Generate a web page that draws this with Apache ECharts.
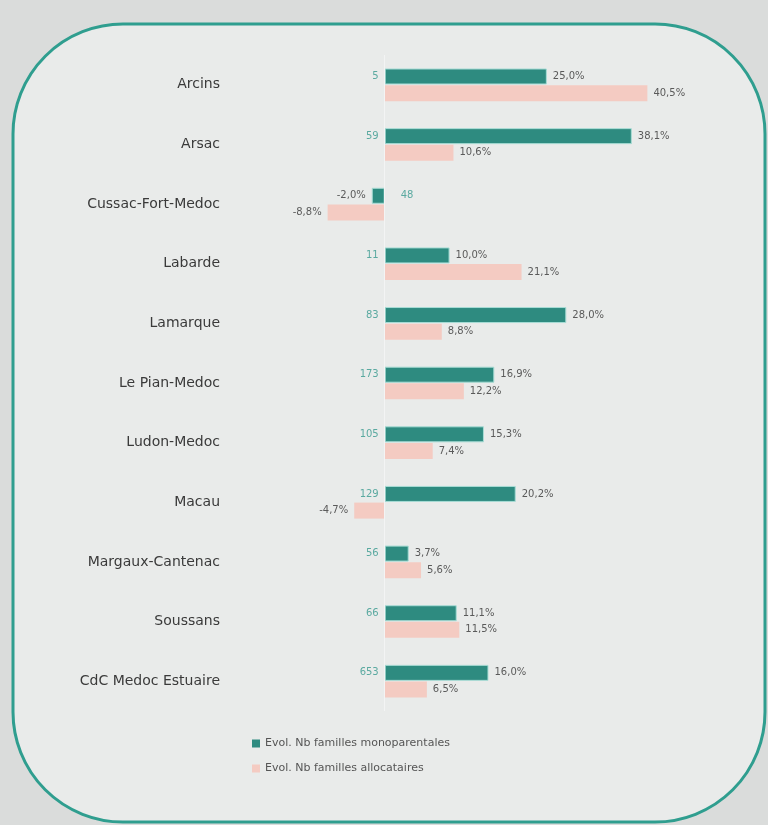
<!DOCTYPE html>
<html>
<head>
<meta charset="utf-8">
<script src="https://cdn.jsdelivr.net/npm/echarts@6/dist/echarts.min.js"></script>
<style>
  html, body { margin: 0; padding: 0; background: #dadcdb; }
  #chart { width: 768px; height: 825px; }
</style>
</head>
<body>
<div id="chart"></div>
<script>
// Communes of the CdC Médoc Estuaire
const categories = [
  'Arcins', 'Arsac', 'Cussac-Fort-Medoc', 'Labarde', 'Lamarque',
  'Le Pian-Medoc', 'Ludon-Medoc', 'Macau', 'Margaux-Cantenac',
  'Soussans', 'CdC Medoc Estuaire'
];
// Change in the number of single-parent families (%)
const monoparentales = [25.0, 38.1, -2.0, 10.0, 28.0, 16.9, 15.3, 20.2, 3.7, 11.1, 16.0];
// Change in the number of benefit-receiving families (%)
const allocataires = [40.5, 10.6, -8.8, 21.1, 8.8, 12.2, 7.4, -4.7, 5.6, 11.5, 6.5];
// Number of single-parent families
const nbMonoparentales = [5, 59, 48, 11, 83, 173, 105, 129, 56, 66, 653];

const seriesNames = ['Evol. Nb familles monoparentales', 'Evol. Nb familles allocataires'];

const fmtPct = v => v.toFixed(1).replace('.', ',') + '%';

const pctItems = values => values.map(v => ({
  value: v,
  label: { position: v < 0 ? 'left' : 'right' }
}));

const chart = echarts.init(document.getElementById('chart'));

const labelFont = { fontFamily: 'DejaVu Sans', fontSize: 10, color: '#5a5a5a' };

chart.setOption({
  backgroundColor: '#dadcdb',
  animation: false,
  graphic: [
    {
      type: 'rect',
      z: -10,
      shape: { x: 13, y: 24, width: 752, height: 798, r: 110 },
      style: { fill: '#e9ebea', stroke: '#2f9e8f', lineWidth: 3 }
    }
  ],
  grid: { left: 255, top: 55, width: 454, height: 656 },
  xAxis: {
    type: 'value', min: -20, max: 50, show: false,
    splitLine: { show: false }
  },
  yAxis: [
    {
      type: 'category', data: categories, inverse: true,
      axisLine: { show: false }, axisTick: { show: false },
      axisLabel: { margin: 35, fontFamily: 'DejaVu Sans', fontSize: 14, color: '#3a3a3a' }
    },
    {
      type: 'category', data: categories, inverse: true, show: false
    }
  ],
  legend: {
    data: seriesNames,
    orient: 'vertical', left: 247, top: 733, itemGap: 14,
    icon: 'rect', itemWidth: 8, itemHeight: 8,
    itemStyle: { borderWidth: 0 },
    textStyle: { fontFamily: 'DejaVu Sans', fontSize: 11, color: '#555' }
  },
  series: [
    {
      name: seriesNames[0], type: 'bar', yAxisIndex: 0,
      barWidth: 16, barGap: '4%',
      data: pctItems(monoparentales),
      itemStyle: { color: '#2e8b80', borderColor: '#a8dcd5', borderWidth: 1 },
      label: Object.assign({ show: true, distance: 6, formatter: p => fmtPct(p.value) }, labelFont),
      markLine: {
        silent: true, symbol: 'none', label: { show: false },
        lineStyle: { color: '#f3f4f4', width: 1, type: 'solid' },
        data: [{ xAxis: 0 }]
      }
    },
    {
      name: seriesNames[1], type: 'bar', yAxisIndex: 0,
      barWidth: 16, barGap: '4%',
      data: pctItems(allocataires),
      itemStyle: { color: '#f4cbc2' },
      label: Object.assign({ show: true, distance: 6, formatter: p => fmtPct(p.value) }, labelFont)
    },
    {
      // counts written beside the base of each single-parent bar
      type: 'bar', yAxisIndex: 1, silent: true,
      barWidth: 16, barGap: '4%',
      data: monoparentales.map(v => ({
        value: v,
        label: { position: v < 0 ? 'right' : 'left', distance: v < 0 ? 16 : 6 }
      })),
      itemStyle: { color: 'rgba(0,0,0,0)' },
      label: {
        show: true, fontFamily: 'DejaVu Sans', fontSize: 10, color: '#5aa9a0',
        formatter: p => String(nbMonoparentales[p.dataIndex])
      }
    },
    {
      type: 'bar', yAxisIndex: 1, silent: true,
      barWidth: 16, barGap: '4%',
      data: allocataires,
      itemStyle: { color: 'rgba(0,0,0,0)' }
    }
  ]
});
</script>
</body>
</html>
